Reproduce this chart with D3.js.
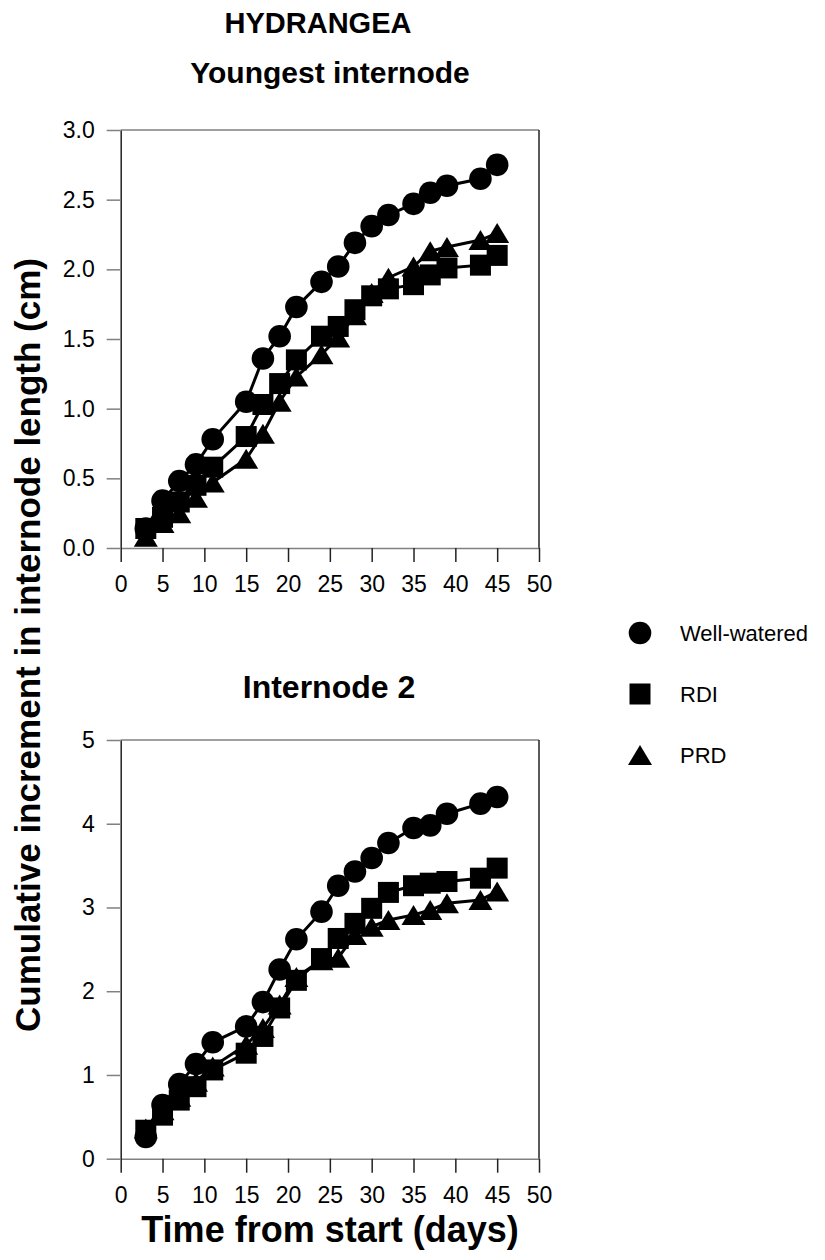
<!DOCTYPE html>
<html>
<head>
<meta charset="utf-8">
<script src="https://cdn.jsdelivr.net/npm/d3@7"></script>
<style>
  body { margin: 0; background: #fff; }
  svg { display: block; font-family: "Liberation Sans", Arial, sans-serif; }
</style>
</head>
<body>
<svg id="chart"></svg>
<script>
// Hydrangea – cumulative internode growth, two panels + shared legend

const width = 825, height = 1260;

const days = [3, 5, 7, 9, 11, 15, 17, 19, 21, 24, 26, 28, 30, 32, 35, 37, 39, 43, 45];

// top panel: youngest internode (cm)
const youngWW  = [0.14, 0.34, 0.48, 0.60, 0.78, 1.05, 1.36, 1.52, 1.73, 1.91, 2.02, 2.19, 2.31, 2.39, 2.47, 2.55, 2.60, 2.65, 2.75];
const youngRDI = [0.14, 0.22, 0.33, 0.45, 0.58, 0.80, 1.03, 1.18, 1.35, 1.52, 1.59, 1.71, 1.81, 1.86, 1.89, 1.96, 2.01, 2.03, 2.10];
const youngPRD = [0.08, 0.18, 0.25, 0.36, 0.47, 0.64, 0.82, 1.05, 1.23, 1.39, 1.51, 1.67, 1.83, 1.94, 2.02, 2.13, 2.16, 2.21, 2.26];

// bottom panel: internode 2 (cm)
const node2WW  = [0.26, 0.64, 0.89, 1.13, 1.39, 1.58, 1.87, 2.26, 2.62, 2.95, 3.26, 3.43, 3.59, 3.77, 3.95, 3.98, 4.12, 4.24, 4.32];
const node2RDI = [0.34, 0.52, 0.70, 0.86, 1.06, 1.26, 1.46, 1.80, 2.13, 2.39, 2.63, 2.81, 2.99, 3.18, 3.26, 3.29, 3.31, 3.35, 3.47];
const node2PRD = [0.36, 0.58, 0.74, 0.92, 1.10, 1.36, 1.56, 1.84, 2.17, 2.37, 2.40, 2.67, 2.77, 2.85, 2.91, 2.97, 3.05, 3.09, 3.19];

const treatments = ["Well-watered", "RDI", "PRD"];
const xTicks = [0, 5, 10, 15, 20, 25, 30, 35, 40, 45, 50];
const youngTicks = [0, 0.5, 1.0, 1.5, 2.0, 2.5, 3.0];
const node2Ticks = [0, 1, 2, 3, 4, 5];

const svg = d3.select("#chart")
  .attr("width", width)
  .attr("height", height);

const x = d3.scaleLinear().domain([0, 50]).range([120.7, 539]);

const grey = "#808080", dark = "#222";

// marker drawing
function marker(sel, kind) {
  if (kind === "Well-watered") {
    sel.append("circle").attr("r", 11.3).attr("fill", "#000");
  } else if (kind === "RDI") {
    sel.append("rect").attr("x", -10.5).attr("y", -10.5)
      .attr("width", 21).attr("height", 21).attr("fill", "#000");
  } else {
    sel.append("path").attr("d", "M0,-10L12,10L-12,10Z").attr("fill", "#000");
  }
}

function panel(y0, y1, yMax, yTicks, fmt, series) {
  const y = d3.scaleLinear().domain([0, yMax]).range([y1, y0]);
  const g = svg.append("g");

  // frame: top grey, right black
  g.append("line").attr("x1", x(0)).attr("x2", x(50))
    .attr("y1", y(yMax)).attr("y2", y(yMax))
    .attr("stroke", grey).attr("stroke-width", 1.5);
  g.append("line").attr("x1", x(50)).attr("x2", x(50))
    .attr("y1", y(yMax)).attr("y2", y(0))
    .attr("stroke", dark).attr("stroke-width", 1.5);

  const xAxis = g.append("g")
    .attr("transform", `translate(0,${y(0)})`)
    .call(d3.axisBottom(x).tickValues(xTicks).tickSize(14).tickSizeOuter(0).tickPadding(14));
  xAxis.select(".domain").attr("stroke", grey).attr("stroke-width", 1.5);
  xAxis.selectAll(".tick line").attr("stroke", dark).attr("stroke-width", 1.5);
  xAxis.selectAll(".tick text").attr("font-size", 23).attr("fill", "#000")
    .attr("font-family", "Liberation Sans, Arial, sans-serif");

  const yAxis = g.append("g")
    .attr("transform", `translate(${x(0)},0)`)
    .call(d3.axisLeft(y).tickValues(yTicks).tickFormat(fmt).tickSize(14).tickSizeOuter(0).tickPadding(12));
  yAxis.select(".domain").attr("stroke", dark).attr("stroke-width", 1.5);
  yAxis.selectAll(".tick line").attr("stroke", grey).attr("stroke-width", 1.5);
  yAxis.selectAll(".tick text").attr("font-size", 23).attr("fill", "#000")
    .attr("font-family", "Liberation Sans, Arial, sans-serif");

  const line = d3.line().x(d => x(d.day)).y(d => y(d.value));

  // PRD first, well-watered on top
  series.slice().reverse().forEach(s => {
    const pts = days.map((day, i) => ({ day, value: s.values[i] }));
    g.append("path").datum(pts)
      .attr("d", line)
      .attr("fill", "none")
      .attr("stroke", "#000")
      .attr("stroke-width", 3);
    g.selectAll(null).data(pts).join("g")
      .attr("transform", d => `translate(${x(d.day)},${y(d.value)})`)
      .each(function() { marker(d3.select(this), s.name); });
  });
}

panel(130, 548, 3, youngTicks, d3.format(".1f"), [
  { name: "Well-watered", values: youngWW },
  { name: "RDI", values: youngRDI },
  { name: "PRD", values: youngPRD }
]);

panel(740, 1158.7, 5, node2Ticks, d3.format("d"), [
  { name: "Well-watered", values: node2WW },
  { name: "RDI", values: node2RDI },
  { name: "PRD", values: node2PRD }
]);

// titles
const bold = sel => sel.attr("font-weight", "bold").attr("text-anchor", "middle").attr("fill", "#000");
svg.append("text").attr("x", 318).attr("y", 33).attr("font-size", 29).text("HYDRANGEA").call(bold);
svg.append("text").attr("x", 330).attr("y", 83).attr("font-size", 30).text("Youngest internode").call(bold);
svg.append("text").attr("x", 329).attr("y", 698).attr("font-size", 32).text("Internode 2").call(bold);
svg.append("text").attr("x", 330).attr("y", 1242).attr("font-size", 36).text("Time from start (days)").call(bold);
svg.append("text")
  .attr("transform", "translate(40,645) rotate(-90)")
  .attr("font-size", 35)
  .text("Cumulative increment in internode length (cm)")
  .call(bold);

// legend
const legend = svg.append("g").selectAll("g")
  .data(treatments)
  .join("g")
  .attr("transform", (d, i) => `translate(640,${633 + i * 61})`);
legend.each(function(d) { marker(d3.select(this), d); });
legend.append("text")
  .attr("x", 40).attr("dy", "0.35em")
  .attr("font-size", 22)
  .text(d => d);
</script>
</body>
</html>
